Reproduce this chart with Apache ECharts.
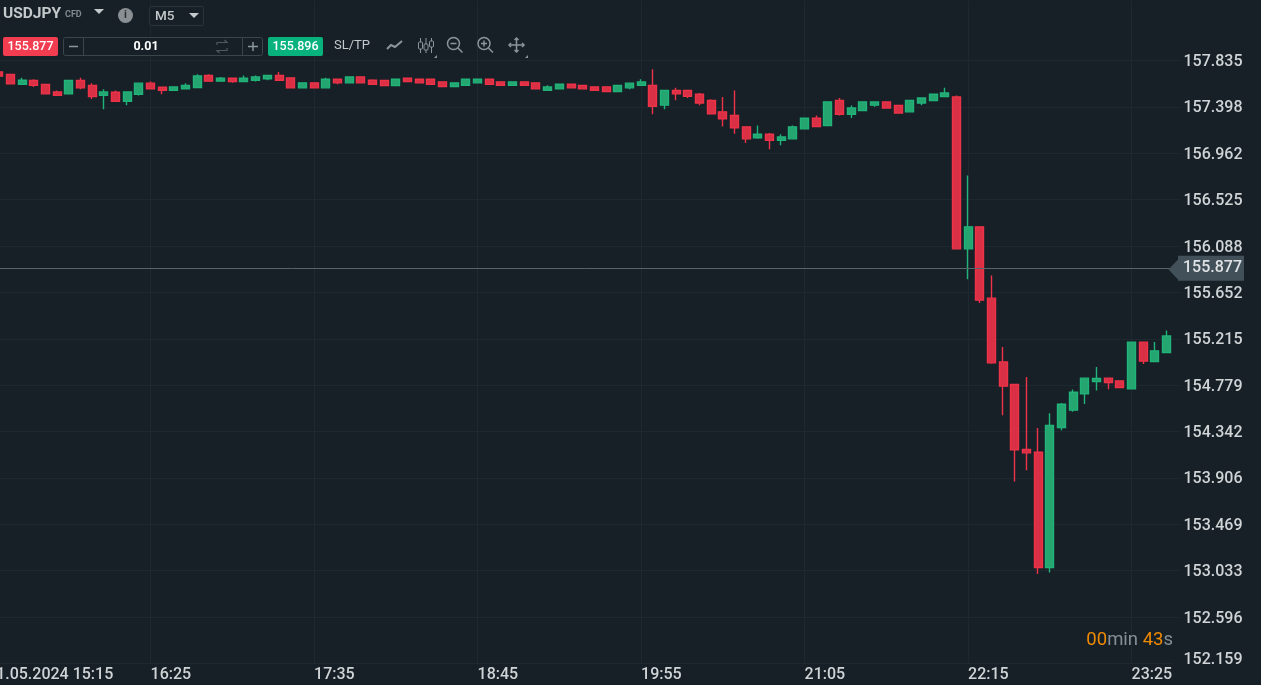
<!DOCTYPE html>
<html><head><meta charset="utf-8">
<style>html,body{margin:0;padding:0;background:#172027;overflow:hidden}#c{width:1261px;height:685px}</style>
<script src="https://cdn.jsdelivr.net/npm/echarts@6/dist/echarts.min.js"></script>
</head><body><div id="c"></div>
<script>
const categories = ['01.05.2024 15:15','15:20','15:25','15:30','15:35','15:40','15:45','15:50','15:55','16:00','16:05','16:10','16:15','16:20','16:25','16:30','16:35','16:40','16:45','16:50','16:55','17:00','17:05','17:10','17:15','17:20','17:25','17:30','17:35','17:40','17:45','17:50','17:55','18:00','18:05','18:10','18:15','18:20','18:25','18:30','18:35','18:40','18:45','18:50','18:55','19:00','19:05','19:10','19:15','19:20','19:25','19:30','19:35','19:40','19:45','19:50','19:55','20:00','20:05','20:10','20:15','20:20','20:25','20:30','20:35','20:40','20:45','20:50','20:55','21:00','21:05','21:10','21:15','21:20','21:25','21:30','21:35','21:40','21:45','21:50','21:55','22:00','22:05','22:10','22:15','22:20','22:25','22:30','22:35','22:40','22:45','22:50','22:55','23:00','23:05','23:10','23:15','23:20','23:25','23:30','23:35','23:40'];
const opens = [null,157.727,157.703,157.611,157.646,157.609,157.539,157.520,157.646,157.599,157.508,157.536,157.451,157.517,157.621,157.583,157.555,157.567,157.580,157.693,157.640,157.668,157.637,157.649,157.661,157.693,157.671,157.577,157.624,157.577,157.658,157.624,157.680,157.649,157.646,157.599,157.668,157.658,157.658,157.633,157.590,157.602,157.624,157.658,157.633,157.602,157.633,157.624,157.555,157.567,157.611,157.599,157.586,157.586,157.543,157.577,157.602,157.599,157.414,157.552,157.552,157.517,157.458,157.351,157.317,157.210,157.106,157.141,157.084,157.097,157.191,157.291,157.223,157.458,157.329,157.364,157.414,157.445,157.411,157.351,157.435,157.458,157.496,157.492,156.062,156.269,155.598,154.998,154.786,154.174,154.148,153.063,154.381,154.544,154.697,154.814,154.845,154.819,154.744,155.184,155.002,155.087];
const closes = [null,157.687,157.614,157.649,157.602,157.520,157.508,157.646,157.577,157.496,157.539,157.451,157.539,157.621,157.567,157.555,157.586,157.599,157.689,157.640,157.668,157.637,157.668,157.680,157.693,157.649,157.577,157.624,157.577,157.658,157.624,157.680,157.624,157.611,157.599,157.658,157.637,157.624,157.611,157.590,157.624,157.658,157.658,157.611,157.602,157.633,157.602,157.567,157.586,157.611,157.577,157.567,157.555,157.543,157.599,157.621,157.633,157.404,157.552,157.520,157.498,157.435,157.332,157.285,157.200,157.097,157.141,157.084,157.115,157.210,157.291,157.213,157.445,157.329,157.388,157.445,157.445,157.388,157.341,157.458,157.482,157.517,157.529,156.062,156.269,155.579,154.989,154.770,154.170,154.142,153.063,154.400,154.600,154.713,154.845,154.842,154.804,154.757,155.184,155.005,155.102,155.243];
const lows = [null,157.687,157.614,157.611,157.586,157.520,157.508,157.520,157.564,157.473,157.376,157.451,157.414,157.505,157.567,157.517,157.555,157.567,157.580,157.640,157.640,157.624,157.637,157.637,157.649,157.649,157.577,157.577,157.577,157.577,157.611,157.624,157.624,157.611,157.599,157.599,157.637,157.624,157.611,157.590,157.590,157.602,157.624,157.611,157.602,157.602,157.602,157.567,157.555,157.567,157.577,157.567,157.555,157.543,157.543,157.564,157.602,157.329,157.376,157.461,157.482,157.414,157.332,157.213,157.144,157.059,157.097,157.000,157.037,157.097,157.191,157.213,157.223,157.317,157.294,157.364,157.398,157.388,157.341,157.351,157.414,157.458,157.496,156.062,155.776,155.553,154.981,154.497,153.873,153.979,153.003,153.016,154.355,154.528,154.603,154.729,154.741,154.757,154.744,154.979,155.002,155.087];
const highs = [null,157.727,157.703,157.671,157.658,157.609,157.552,157.646,157.671,157.621,157.564,157.552,157.539,157.621,157.637,157.583,157.586,157.621,157.705,157.705,157.680,157.668,157.693,157.693,157.693,157.727,157.671,157.624,157.624,157.671,157.658,157.680,157.680,157.658,157.646,157.658,157.668,157.658,157.658,157.633,157.624,157.658,157.658,157.658,157.633,157.633,157.633,157.624,157.602,157.611,157.611,157.599,157.586,157.586,157.599,157.621,157.658,157.753,157.552,157.577,157.552,157.529,157.470,157.492,157.552,157.210,157.223,157.153,157.141,157.223,157.291,157.317,157.445,157.482,157.411,157.445,157.445,157.445,157.411,157.458,157.482,157.517,157.577,157.505,156.752,156.269,155.811,155.139,154.786,154.857,154.377,154.515,154.612,154.738,154.845,154.951,154.845,154.819,155.184,155.184,155.186,155.294];
const yTicks = [152.159,152.596,153.033,153.469,153.906,154.342,154.779,155.215,155.652,156.088,156.525,156.962,157.398,157.835];
const bidPrice = 155.877;
const askPrice = 155.896;

const candles = categories.map((_, i) => opens[i] === null ? ['-','-','-','-'] : [opens[i], closes[i], lows[i], highs[i]]);
const yMin = 152.159, yMax = 158.399;
const F = 'Roboto, sans-serif';
const icon = '#8b969c';
const line = (pts, w) => ({type:'polyline', shape:{points:pts}, style:{stroke:icon, lineWidth:w||1.5, fill:null}, silent:true});
const T = (x,y,text,o) => ({type:'text', x, y, silent:true, style:Object.assign({text, fill:'#c9ced1', font:'500 13px '+F, textVerticalAlign:'middle'}, o||{})});
const R = (x,y,w,h,fill,stroke,r) => ({type:'rect', shape:{x,y,width:w,height:h,r:r||0}, style:{fill:fill||null, stroke:stroke||null, lineWidth:1}, silent:true});
const Z = (cx,cy,plus) => {
  const a=[{type:'circle',shape:{cx,cy,r:6},style:{fill:null,stroke:icon,lineWidth:1.5},silent:true},
    line([[cx+4.5,cy+4.5],[cx+9,cy+9]],1.5), line([[cx-3,cy],[cx+3,cy]],1.5)];
  if(plus) a.push(line([[cx,cy-3],[cx,cy+3]],1.5));
  return a;
};
const chrome = [
  T(3,14,'USDJPY',{font:'700 15.5px '+F,fill:'#c4c9cc'}),
  T(65,15,'CFD',{font:'700 9px '+F,fill:'#7f898f'}),
  {type:'polygon',shape:{points:[[94,9],[104,9],[99,14]]},style:{fill:'#c4c9cc'},silent:true},
  {type:'circle',shape:{cx:125.5,cy:15.5,r:7.5},style:{fill:'#8a8f93'},silent:true},
  T(125.5,15.5,'i',{font:'700 11px '+F,fill:'#2a3238',textAlign:'center'}),
  R(149.5,6.5,54,19,'#172027','#29343b',2),
  T(155,16.5,'M5',{font:'500 13.5px '+F,fill:'#c4c9cc'}),
  {type:'polygon',shape:{points:[[189,13],[199,13],[194,18]]},style:{fill:'#c4c9cc'},silent:true},
  R(3,37,55,19,'#f23c50',null,2),
  T(30.5,47,bidPrice.toFixed(3),{font:'500 12.5px '+F,fill:'#ffffff',textAlign:'center'}),
  R(63.5,37.5,199,18,'#172027','#3a454c',2),
  {type:'line',shape:{x1:83.5,y1:38,x2:83.5,y2:55},style:{stroke:'#3a454c'},silent:true},
  {type:'line',shape:{x1:242.5,y1:38,x2:242.5,y2:55},style:{stroke:'#3a454c'},silent:true},
  line([[69,46.5],[78,46.5]],1.5),
  line([[248,46.5],[258,46.5]],1.5), line([[253,42],[253,51]],1.5),
  T(146,47,'0.01',{font:'700 12.5px '+F,fill:'#ffffff',textAlign:'center'}),
  {type:'polyline',shape:{points:[[217,45],[217,42.5],[227,42.5],[224.5,40]]},style:{stroke:'#4f5a60',lineWidth:1.2,fill:null},silent:true},
  {type:'polyline',shape:{points:[[227,48],[227,50.5],[217,50.5],[219.5,53]]},style:{stroke:'#4f5a60',lineWidth:1.2,fill:null},silent:true},
  R(268,37,55,19,'#08b27c',null,2),
  T(295.5,47,askPrice.toFixed(3),{font:'500 12.5px '+F,fill:'#ffffff',textAlign:'center'}),
  T(334,45.5,'SL/TP',{font:'400 13px '+F,fill:'#c4c9cc'}),
  line([[387,49],[391,45],[395,47],[402,41]],2),
  line([[420.5,38],[420.5,53]],1), line([[426,38],[426,53]],1), line([[431.5,38],[431.5,53]],1),
  R(418.5,42,4,7,'#172027',icon,1), R(424,44,4,6,'#172027',icon,1), R(429.5,41,4,6,'#172027',icon,1),
  ...Z(453.5,43.5,false), ...Z(484,43.5,true),
  line([[509,45],[524,45]],1.5), line([[516.5,38],[516.5,52]],1.5),
  line([[511,43],[509,45],[511,47]],1.5), line([[522,43],[524,45],[522,47]],1.5),
  line([[514.5,40],[516.5,38],[518.5,40]],1.5), line([[514.5,50],[516.5,52],[518.5,50]],1.5),
  {type:'polygon',shape:{points:[[437,55],[437,58],[434,58]]},style:{fill:icon},silent:true},
  {type:'polygon',shape:{points:[[528,55],[528,58],[525,58]]},style:{fill:icon},silent:true},
  {type:'polygon',shape:{points:[[1168.5,269.5],[1178.5,259],[1178.5,280]]},style:{fill:'#425059'},silent:true},
  {type:'text',silent:true,x:1173,y:640,style:{
    text:'{o|00}{g|min }{o|43}{g|s}',align:'right',textAlign:'right',verticalAlign:'middle',textVerticalAlign:'middle',
    rich:{o:{fill:'#f08a00',font:'400 18.5px '+F},g:{fill:'#868f95',font:'400 18.5px '+F}}}}
].map(e => Object.assign({z:100}, e));

const chart = echarts.init(document.getElementById('c'), null, {renderer:'canvas'});
const splitColor = '#1d282f';
const everyFourteenth = i => i % 14 === 0;
const tickText = {color:'#d0d4d6', fontFamily:'Roboto', fontWeight:500, fontSize:16};
chart.setOption({
  animation:false,
  backgroundColor:'#172027',
  grid:[
    {left:-18.8, right:1261-1172.5, top:0.5, bottom:685-663.6, outerBoundsMode:'none'},
    {left:0, right:1261-1180, top:0.5, bottom:685-663.6, outerBoundsMode:'none'}
  ],
  xAxis:[
    {type:'category', gridIndex:0, data:categories, boundaryGap:true,
     axisLine:{show:true, lineStyle:{color:splitColor}}, axisTick:{show:false},
     splitLine:{show:true, interval:everyFourteenth, alignWithLabel:true, lineStyle:{color:splitColor, width:1}},
     axisLabel:Object.assign({interval:everyFourteenth, align:'left', margin:3, hideOverlap:false}, tickText)},
    {type:'value', gridIndex:1, min:0, max:1, show:false}
  ],
  yAxis:[
    {type:'value', gridIndex:0, min:yMin, max:yMax, show:false, scale:true, splitLine:{show:false}},
    {type:'value', gridIndex:1, min:yMin, max:yMax, position:'right', scale:true,
     axisLine:{show:false},
     axisTick:{show:false, customValues:yTicks},
     splitLine:{show:true, showMinLine:false, lineStyle:{color:splitColor, width:1}},
     axisLabel:Object.assign({customValues:yTicks, margin:3.5,
       formatter:v=>{const s=Number(v).toFixed(3);return Math.abs(v-yMin)<1e-6?'{m|'+s+'}':'{n|'+s+'}';},
       rich:{m:Object.assign({padding:[0,0,7,0]},tickText), n:Object.assign({padding:[3,0,0,0]},tickText)}}, tickText)}
  ],
  series:[{
    type:'candlestick', xAxisIndex:0, yAxisIndex:0, data:candles, barWidth:8.5,
    itemStyle:{color:'#25a570', color0:'#d93045', borderColor:'#20b47a', borderColor0:'#ee3348', borderWidth:1.4},
    markLine:{silent:true, symbol:['none','none'], animation:false,
      lineStyle:{color:'#56646c', width:1, type:'solid'},
      label:{show:true, position:'end', distance:5.5, formatter:()=>bidPrice.toFixed(3), color:'#e0e3e5',
        fontFamily:'Roboto', fontWeight:500, fontSize:16, backgroundColor:'#425059', padding:[8,2,1,5]},
      data:[{yAxis:bidPrice}]}
  }],
  graphic:{elements:chrome}
});
</script></body></html>
